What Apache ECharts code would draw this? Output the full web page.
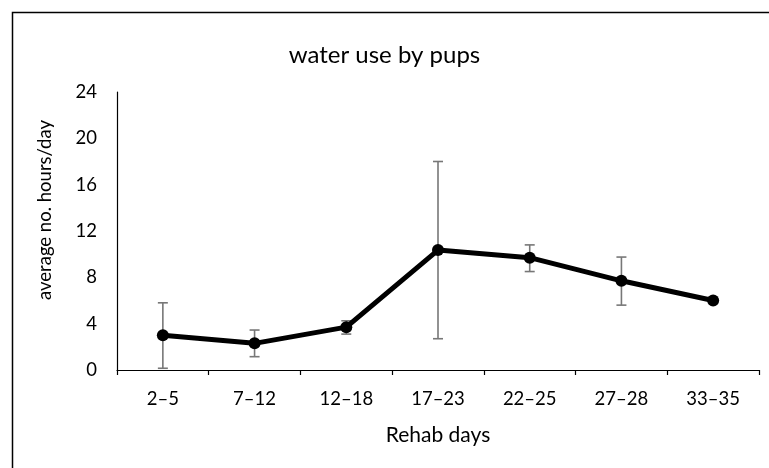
<!DOCTYPE html>
<html>
<head>
<meta charset="utf-8">
<script src="https://cdn.jsdelivr.net/npm/echarts@6/dist/echarts.min.js"></script>
<style>
html, body { margin: 0; padding: 0; background: #fff; }
#chart { width: 769px; height: 468px; }
</style>
</head>
<body>
<div id="chart"></div>
<script>
var categories = ['2–5', '7–12', '12–18', '17–23', '22–25', '27–28', '33–35'];
var means = [3.0, 2.3, 3.7, 10.35, 9.7, 7.7, 6.0];
var errLow = [0.15, 1.15, 3.1, 2.7, 8.5, 5.6, null];
var errHigh = [5.8, 3.45, 4.25, 18.0, 10.8, 9.75, null];
var yTicks = [0, 4, 8, 12, 16, 20, 24];

var font = 'Lato';

var errData = [];
for (var i = 0; i < categories.length; i++) {
    if (errLow[i] != null) {
        errData.push([i, errLow[i], errHigh[i]]);
    }
}

var myChart = echarts.init(document.getElementById('chart'));

var option = {
    animation: false,
    title: {
        text: 'water use by pups',
        left: 'center',
        top: 38,
        textStyle: { fontFamily: font, fontSize: 24, fontWeight: 'normal', color: '#000' }
    },
    graphic: [
        {
            type: 'rect',
            shape: { x: 12.5, y: 12.5, width: 800, height: 500 },
            style: { fill: 'none', stroke: '#000', lineWidth: 1.5 },
            silent: true
        }
    ],
    grid: { left: 117, right: 10, top: 92, bottom: 98 },
    xAxis: {
        type: 'category',
        data: categories,
        boundaryGap: true,
        name: 'Rehab days',
        nameLocation: 'middle',
        nameGap: 55,
        nameTextStyle: { fontFamily: font, fontSize: 21, color: '#000' },
        axisLine: { lineStyle: { color: '#000', width: 1.2 } },
        axisTick: { show: true, alignWithLabel: false, length: 5, lineStyle: { color: '#000', width: 1.2 } },
        axisLabel: { fontFamily: font, fontSize: 18.5, color: '#000', margin: 20 },
        splitLine: { show: false }
    },
    yAxis: {
        type: 'value',
        min: yTicks[0],
        max: yTicks[yTicks.length - 1],
        interval: 4,
        name: 'average no. hours/day',
        nameLocation: 'middle',
        nameGap: 62,
        nameTextStyle: { fontFamily: font, fontSize: 18.5, color: '#000', padding: [0, 0, 0, 42] },
        axisLine: { show: true, lineStyle: { color: '#000', width: 1.2 } },
        axisTick: { show: false },
        axisLabel: { fontFamily: font, fontSize: 18.5, color: '#000', margin: 20 },
        splitLine: { show: false }
    },
    series: [
        {
            name: 'error',
            type: 'custom',
            data: errData,
            z: 1,
            renderItem: function (params, api) {
                var x = api.value(0);
                var lo = api.coord([x, api.value(1)]);
                var hi = api.coord([x, api.value(2)]);
                var cap = 5;
                var st = { stroke: '#777', lineWidth: 1.6 };
                return {
                    type: 'group',
                    children: [
                        { type: 'line', shape: { x1: hi[0], y1: hi[1], x2: lo[0], y2: lo[1] }, style: st },
                        { type: 'line', shape: { x1: hi[0] - cap, y1: hi[1], x2: hi[0] + cap, y2: hi[1] }, style: st },
                        { type: 'line', shape: { x1: lo[0] - cap, y1: lo[1], x2: lo[0] + cap, y2: lo[1] }, style: st }
                    ]
                };
            }
        },
        {
            name: 'water use',
            type: 'line',
            data: means,
            z: 3,
            symbol: 'circle',
            symbolSize: 12,
            itemStyle: { color: '#000' },
            lineStyle: { color: '#000', width: 5 }
        }
    ]
};

myChart.setOption(option);
</script>
</body>
</html>
